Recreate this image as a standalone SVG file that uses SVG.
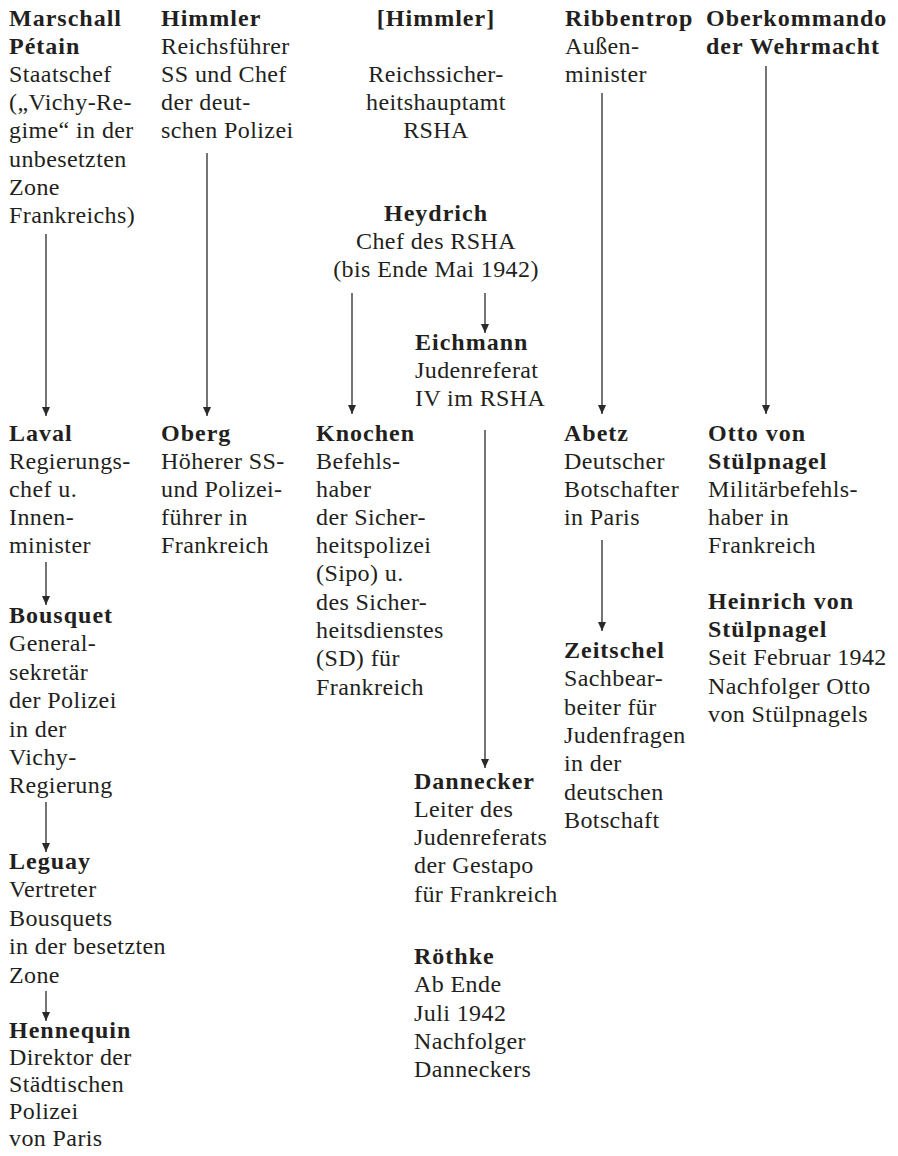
<svg xmlns="http://www.w3.org/2000/svg" width="898" height="1156" viewBox="0 0 898 1156">
<style>
text{font-family:"Liberation Serif","Times New Roman",serif;font-size:24px;fill:#231f20;letter-spacing:0.4px}
.b{font-weight:bold;letter-spacing:1px}
.c{text-anchor:middle}
.con line{stroke:#2a2a2a;stroke-width:1.3;fill:none}
</style>
<defs>
<marker id="ah" markerUnits="userSpaceOnUse" markerWidth="10" markerHeight="10" viewBox="0 0 10 10" refX="9" refY="5" orient="auto">
<path d="M0,1 L9,5 L0,9 Z" fill="#2a2a2a"/>
</marker>
</defs>
<rect width="898" height="1156" fill="#fff"/>
<g class="con" id="connectors">
<line x1="46" y1="234" x2="46" y2="416" marker-end="url(#ah)"/>
<line x1="46" y1="562" x2="46" y2="605" marker-end="url(#ah)"/>
<line x1="46" y1="802" x2="46" y2="852" marker-end="url(#ah)"/>
<line x1="46" y1="991" x2="46" y2="1021" marker-end="url(#ah)"/>
<line x1="207" y1="153" x2="207" y2="416" marker-end="url(#ah)"/>
<line x1="352" y1="293" x2="352" y2="414" marker-end="url(#ah)"/>
<line x1="485" y1="293" x2="485" y2="333" marker-end="url(#ah)"/>
<line x1="485" y1="430" x2="485" y2="768" marker-end="url(#ah)"/>
<line x1="602" y1="93" x2="602" y2="414" marker-end="url(#ah)"/>
<line x1="602" y1="540" x2="602" y2="631" marker-end="url(#ah)"/>
<line x1="766" y1="66" x2="766" y2="414" marker-end="url(#ah)"/>
</g>
<g id="petain"><text><tspan class="b" x="9" y="26">Marschall</tspan><tspan class="b" x="9" y="54">Pétain</tspan><tspan x="9" y="82">Staatschef</tspan><tspan x="9" y="110">(„Vichy-Re-</tspan><tspan x="9" y="138">gime“ in der</tspan><tspan x="9" y="167">unbesetzten</tspan><tspan x="9" y="195">Zone</tspan><tspan x="9" y="223">Frankreichs)</tspan></text></g>
<g id="himmler"><text><tspan class="b" x="161" y="26">Himmler</tspan><tspan x="161" y="54">Reichsführer</tspan><tspan x="161" y="82">SS und Chef</tspan><tspan x="161" y="110">der deut-</tspan><tspan x="161" y="138">schen Polizei</tspan></text></g>
<g id="rsha"><text class="c"><tspan class="b" x="436" y="26">[Himmler]</tspan><tspan x="436" y="82">Reichssicher-</tspan><tspan x="436" y="110">heitshauptamt</tspan><tspan x="436" y="138">RSHA</tspan></text></g>
<g id="ribbentrop"><text><tspan class="b" x="565" y="26">Ribbentrop</tspan><tspan x="565" y="54">Außen-</tspan><tspan x="565" y="82">minister</tspan></text></g>
<g id="okw"><text><tspan class="b" x="706" y="26">Oberkommando</tspan><tspan class="b" x="706" y="54">der Wehrmacht</tspan></text></g>
<g id="heydrich"><text class="c"><tspan class="b" x="436" y="221">Heydrich</tspan><tspan x="436" y="249">Chef des RSHA</tspan><tspan x="436" y="277">(bis Ende Mai 1942)</tspan></text></g>
<g id="eichmann"><text><tspan class="b" x="415" y="350">Eichmann</tspan><tspan x="415" y="378">Judenreferat</tspan><tspan x="415" y="406">IV im RSHA</tspan></text></g>
<g id="laval"><text><tspan class="b" x="9" y="441">Laval</tspan><tspan x="9" y="469">Regierungs-</tspan><tspan x="9" y="497">chef u.</tspan><tspan x="9" y="525">Innen-</tspan><tspan x="9" y="553">minister</tspan></text></g>
<g id="oberg"><text><tspan class="b" x="161" y="441">Oberg</tspan><tspan x="161" y="469">Höherer SS-</tspan><tspan x="161" y="497">und Polizei-</tspan><tspan x="161" y="525">führer in</tspan><tspan x="161" y="553">Frankreich</tspan></text></g>
<g id="knochen"><text><tspan class="b" x="316" y="441">Knochen</tspan><tspan x="316" y="469">Befehls-</tspan><tspan x="316" y="497">haber</tspan><tspan x="316" y="525">der Sicher-</tspan><tspan x="316" y="553">heitspolizei</tspan><tspan x="316" y="581">(Sipo) u.</tspan><tspan x="316" y="610">des Sicher-</tspan><tspan x="316" y="638">heitsdienstes</tspan><tspan x="316" y="666">(SD) für</tspan><tspan x="316" y="695">Frankreich</tspan></text></g>
<g id="abetz"><text><tspan class="b" x="564" y="441">Abetz</tspan><tspan x="564" y="469">Deutscher</tspan><tspan x="564" y="497">Botschafter</tspan><tspan x="564" y="525">in Paris</tspan></text></g>
<g id="otto"><text><tspan class="b" x="708" y="441">Otto von</tspan><tspan class="b" x="708" y="469">Stülpnagel</tspan><tspan x="708" y="497">Militärbefehls-</tspan><tspan x="708" y="525">haber in</tspan><tspan x="708" y="553">Frankreich</tspan></text></g>
<g id="heinrich"><text><tspan class="b" x="708" y="609">Heinrich von</tspan><tspan class="b" x="708" y="637">Stülpnagel</tspan><tspan x="708" y="665">Seit Februar 1942</tspan><tspan x="708" y="694">Nachfolger Otto</tspan><tspan x="708" y="722">von Stülpnagels</tspan></text></g>
<g id="bousquet"><text><tspan class="b" x="9" y="623">Bousquet</tspan><tspan x="9" y="651">General-</tspan><tspan x="9" y="680">sekretär</tspan><tspan x="9" y="708">der Polizei</tspan><tspan x="9" y="737">in der</tspan><tspan x="9" y="765">Vichy-</tspan><tspan x="9" y="793">Regierung</tspan></text></g>
<g id="zeitschel"><text><tspan class="b" x="564" y="658">Zeitschel</tspan><tspan x="564" y="686">Sachbear-</tspan><tspan x="564" y="715">beiter für</tspan><tspan x="564" y="743">Judenfragen</tspan><tspan x="564" y="771">in der</tspan><tspan x="564" y="800">deutschen</tspan><tspan x="564" y="828">Botschaft</tspan></text></g>
<g id="dannecker"><text><tspan class="b" x="414" y="789">Dannecker</tspan><tspan x="414" y="817">Leiter des</tspan><tspan x="414" y="845">Judenreferats</tspan><tspan x="414" y="873">der Gestapo</tspan><tspan x="414" y="902">für Frankreich</tspan></text></g>
<g id="roethke"><text><tspan class="b" x="414" y="964">Röthke</tspan><tspan x="414" y="992">Ab Ende</tspan><tspan x="414" y="1021">Juli 1942</tspan><tspan x="414" y="1049">Nachfolger</tspan><tspan x="414" y="1077">Danneckers</tspan></text></g>
<g id="leguay"><text><tspan class="b" x="9" y="869">Leguay</tspan><tspan x="9" y="897">Vertreter</tspan><tspan x="9" y="926">Bousquets</tspan><tspan x="9" y="954">in der besetzten</tspan><tspan x="9" y="983">Zone</tspan></text></g>
<g id="hennequin"><text><tspan class="b" x="9" y="1038">Hennequin</tspan><tspan x="9" y="1065">Direktor der</tspan><tspan x="9" y="1092">Städtischen</tspan><tspan x="9" y="1119">Polizei</tspan><tspan x="9" y="1146">von Paris</tspan></text></g>
</svg>
